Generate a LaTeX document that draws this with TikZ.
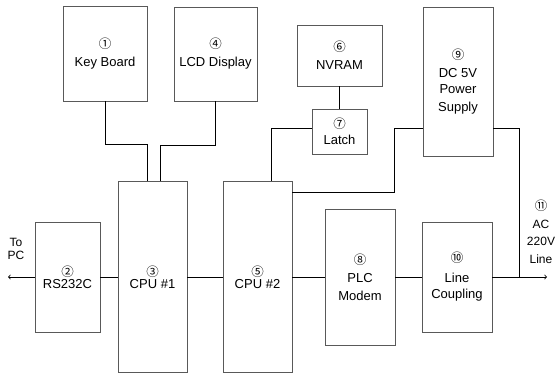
\documentclass[tikz,border=0pt]{standalone}
\usepackage{fontspec}
\setmainfont{Liberation Sans}
\newfontfamily\circfont{Noto Sans CJK SC}
\newcommand{\numtag}[1]{{\circfont\fontsize{12.5}{12}\selectfont #1}}
\begin{document}
\begin{tikzpicture}[blockbox/.style={draw=black!65, line width=0.7pt, inner sep=0pt, align=center, font=\fontsize{13}{18}\selectfont},
        link/.style={draw=black, line width=0.8pt},
        x=1pt, y=-1pt]
    \useasboundingbox (0,0) rectangle (555,376);
    % blocks
    \node[blockbox, minimum width=84, minimum height=95] (kb) at (105,53.5) {\numtag{①}\\Key Board};
    \node[blockbox, minimum width=83, minimum height=94] (lcd) at (215.5,54) {\numtag{④}\\LCD Display};
    \node[blockbox, minimum width=65, minimum height=110] (rs) at (67.5,277) {\numtag{②}\\[-6pt]RS232C};
    \node[blockbox, minimum width=69, minimum height=191] (cpua) at (152.5,277) {\numtag{③}\\[-6pt]CPU \#1};
    \node[blockbox, minimum width=69, minimum height=191] (cpub) at (257.5,277) {\numtag{⑤}\\[-6pt]CPU \#2};
    \node[blockbox, minimum width=85, minimum height=61] (nvram) at (339.5,55.5) {\numtag{⑥}\\NVRAM};
    \node[blockbox, minimum width=55, minimum height=45] (latch) at (339.5,131.5) {\numtag{⑦}\\[-2pt]Latch};
    \node[blockbox, minimum width=70, minimum height=149] (ps) at (458,81.5) {\numtag{⑨}\\DC 5V\\[-2pt]Power\\Supply};
    \node[blockbox, minimum width=70, minimum height=136] (plc) at (360,277) {\numtag{⑧}\\PLC\\Modem};
    \node[blockbox, minimum width=70, minimum height=110] (lc) at (457,277) {\numtag{⑩}\\[2pt]Line\\[-2pt]Coupling};
    % free ends
    \coordinate (pc) at (8,277);
    \coordinate (acline) at (547,277);
    \coordinate (tap) at (519.5,277);
    \node[align=center, font=\fontsize{12}{13}\selectfont] (topc) at (16,249) {To\\PC};
    \node[align=center, font=\fontsize{12}{17.5}\selectfont] (ac) at (541,232) {\numtag{⑪}\\AC\\220V\\Line};
    % connections
    \draw[link] (kb.south) -- ++(0,43) -| ([xshift=-5.5pt]cpua.north);
    \draw[link] (lcd.south) -- ++(0,44) -| ([xshift=7.5pt]cpua.north);
    \draw[link] (nvram.south) -- (latch.north);
    \draw[link] ([yshift=3.5pt]latch.west) -| ([xshift=13.5pt]cpub.north);
    \draw[link] ([yshift=-46.5pt]ps.west) -- ++(-28,0) |- ([yshift=84.5pt]cpub.east);
    \draw[link] ([yshift=-46.5pt]ps.east) -| (tap);
    \draw[link, ->] (rs.west) -- (pc);
    \draw[link] (rs.east) -- (cpua.west);
    \draw[link] (cpua.east) -- (cpub.west);
    \draw[link] (cpub.east) -- (plc.west);
    \draw[link] (plc.east) -- (lc.west);
    \draw[link, ->] (lc.east) -- (acline);
\end{tikzpicture}
\end{document}
